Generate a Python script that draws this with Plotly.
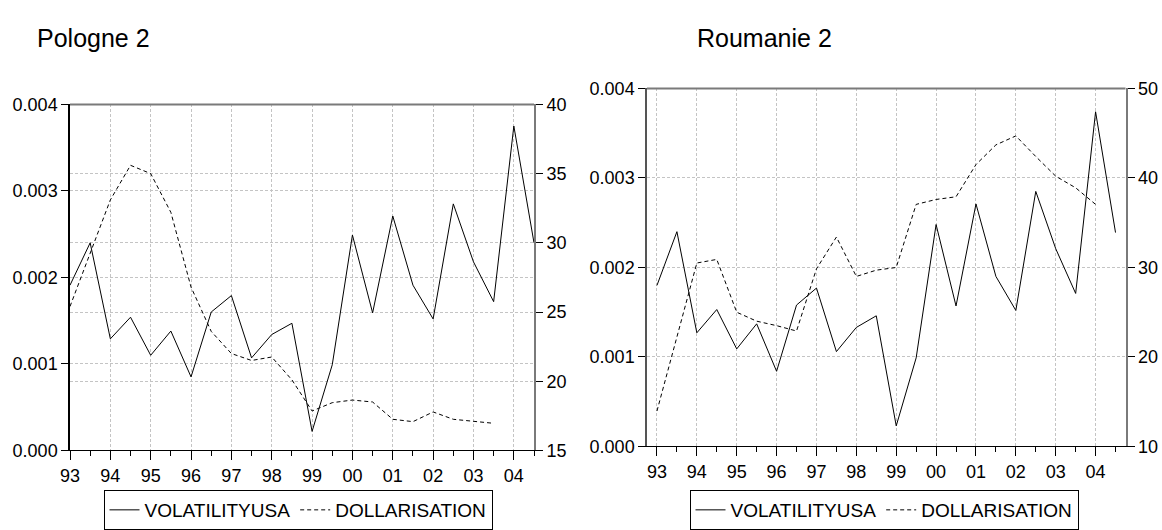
import plotly.graph_objects as go

# ---- data (semi-annual, 1993S1 .. 2004S2) ----
periods = [1993.0, 1993.5, 1994.0, 1994.5, 1995.0, 1995.5, 1996.0, 1996.5,
           1997.0, 1997.5, 1998.0, 1998.5, 1999.0, 1999.5, 2000.0, 2000.5,
           2001.0, 2001.5, 2002.0, 2002.5, 2003.0, 2003.5, 2004.0, 2004.5]

year_ticks = [1993, 1994, 1995, 1996, 1997, 1998, 1999, 2000, 2001, 2002, 2003, 2004]
year_labels = ["93", "94", "95", "96", "97", "98", "99", "00", "01", "02", "03", "04"]
half_ticks = [1993.5, 1994.5, 1995.5, 1996.5, 1997.5, 1998.5, 1999.5, 2000.5,
              2001.5, 2002.5, 2003.5, 2004.5]

pl_volatility = [0.00191, 0.00240, 0.00129, 0.00154, 0.00110, 0.00138, 0.00085, 0.00160,
                 0.00179, 0.00107, 0.00134, 0.00147, 0.00022, 0.00099, 0.00249, 0.00159,
                 0.00271, 0.00191, 0.00152, 0.00285, 0.00218, 0.00172, 0.00375, 0.00240]
pl_dollarisation = [25.4, 29.3, 33.1, 35.6, 35.0, 32.2, 26.8, 23.6,
                    22.0, 21.5, 21.75, 20.1, 17.85, 18.45, 18.64, 18.5,
                    17.25, 17.08, 17.78, 17.25, 17.13, 16.96, None, None]

ro_volatility = [0.00180, 0.00240, 0.00127, 0.00153, 0.00109, 0.00137, 0.00084, 0.00158,
                 0.00177, 0.00106, 0.00133, 0.00146, 0.00023, 0.00099, 0.00248, 0.00157,
                 0.00271, 0.00190, 0.00152, 0.00285, 0.00221, 0.00171, 0.00374, 0.00239]
ro_dollarisation = [13.96, 22.3, 30.5, 30.9, 25.0, 24.0, 23.5, 22.9,
                    29.85, 33.4, 29.0, 29.7, 30.0, 37.05, 37.6, 37.9,
                    41.5, 43.7, 44.7, 42.4, 40.2, 38.9, 37.05, None]

titles = ["Pologne 2", "Roumanie 2"]
series_names = ["VOLATILITYUSA", "DOLLARISATION"]

W, H = 1162, 530
FONT = "Liberation Sans, Arial, sans-serif"
TICK_SIZE = 18
GRID = dict(showgrid=True, gridcolor="#c4c4c4", gridwidth=1, griddash="3px,2px")

fig = go.Figure()

# Poland
fig.add_trace(go.Scatter(x=periods, y=pl_volatility, mode="lines", name=series_names[0],
                         line=dict(color="black", width=1), xaxis="x", yaxis="y",
                         legend="legend"))
fig.add_trace(go.Scatter(x=periods, y=pl_dollarisation, mode="lines", name=series_names[1],
                         line=dict(color="black", width=1, dash="4px,3px"), xaxis="x", yaxis="y2",
                         legend="legend", connectgaps=False))
# Romania
fig.add_trace(go.Scatter(x=periods, y=ro_volatility, mode="lines", name=series_names[0],
                         line=dict(color="black", width=1), xaxis="x2", yaxis="y3",
                         legend="legend2"))
fig.add_trace(go.Scatter(x=periods, y=ro_dollarisation, mode="lines", name=series_names[1],
                         line=dict(color="black", width=1, dash="4px,3px"), xaxis="x2", yaxis="y4",
                         legend="legend2", connectgaps=False))


def px_x(p):
    return p / W


def px_y(p):
    return 1 - p / H


def xaxis_cfg(domain, rng, anchor):
    return dict(domain=domain, range=rng, anchor=anchor,
                tickmode="array", tickvals=year_ticks, ticktext=year_labels,
                ticks="outside", ticklen=9, tickcolor="black", tickwidth=1,
                showline=True, linecolor="black", linewidth=1,
                zeroline=False, automargin=False,
                tickfont=dict(family=FONT, size=TICK_SIZE, color="black"),
                minor=dict(tickmode="array", tickvals=half_ticks, ticks="outside",
                           ticklen=5, tickcolor="black", tickwidth=1, showgrid=False),
                **GRID)


def yleft_cfg(domain, anchor, linecolor):
    return dict(domain=domain, range=[0, 0.004], dtick=0.001, tick0=0, tickformat=".3f",
                anchor=anchor, ticks="outside", ticklen=7, tickcolor="black",
                showline=True, linecolor=linecolor, linewidth=1.5, zeroline=False,
                automargin=False, tickfont=dict(family=FONT, size=TICK_SIZE, color="black"),
                **GRID)


def yright_cfg(overlay, anchor, rng, dtick):
    return dict(overlaying=overlay, side="right", anchor=anchor, range=rng, dtick=dtick,
                tick0=rng[0], ticks="outside", ticklen=7, tickcolor="black",
                showline=True, linecolor="#7a7a7a", linewidth=2, zeroline=False,
                automargin=False, tickfont=dict(family=FONT, size=TICK_SIZE, color="black"),
                **GRID)


pl_xdom = [px_x(70), px_x(534)]
pl_ydom = [px_y(453), px_y(105)]
ro_xdom = [px_x(647), px_x(1125.5)]
ro_ydom = [px_y(449), px_y(89)]

legend_common = dict(orientation="h", xanchor="center", yanchor="middle",
                     bordercolor="black", borderwidth=1, bgcolor="white",
                     font=dict(family=FONT, size=19, color="black"),
                     itemwidth=30, tracegroupgap=0)

fig.update_layout(
    width=W, height=H,
    margin=dict(l=0, r=0, t=0, b=0),
    paper_bgcolor="white", plot_bgcolor="white",
    font=dict(family=FONT, size=TICK_SIZE, color="black"),
    xaxis=xaxis_cfg(pl_xdom, [1993, 2004.5], "y"),
    yaxis=yleft_cfg(pl_ydom, "x", "black"),
    yaxis2=yright_cfg("y", "x", [15, 40], 5),
    xaxis2=xaxis_cfg(ro_xdom, [1992.75, 2004.75], "y3"),
    yaxis3=yleft_cfg(ro_ydom, "x2", "#555555"),
    yaxis4=yright_cfg("y3", "x2", [10, 50], 10),
    legend=dict(x=px_x(298), y=px_y(513), **legend_common),
    legend2=dict(x=px_x(884), y=px_y(513), **legend_common),
    annotations=[
        dict(text=titles[0], x=px_x(35), y=px_y(38), xref="paper", yref="paper",
             xanchor="left", yanchor="middle", showarrow=False,
             font=dict(family=FONT, size=25, color="black")),
        dict(text=titles[1], x=px_x(695), y=px_y(38), xref="paper", yref="paper",
             xanchor="left", yanchor="middle", showarrow=False,
             font=dict(family=FONT, size=25, color="black")),
    ],
    shapes=[
        dict(type="line", xref="x domain", yref="y domain", x0=0, x1=1, y0=1, y1=1,
             line=dict(color="#7a7a7a", width=2)),
        dict(type="line", xref="x2 domain", yref="y3 domain", x0=0, x1=1, y0=1, y1=1,
             line=dict(color="#7a7a7a", width=2)),
    ],
)

fig.write_html("out.html")
